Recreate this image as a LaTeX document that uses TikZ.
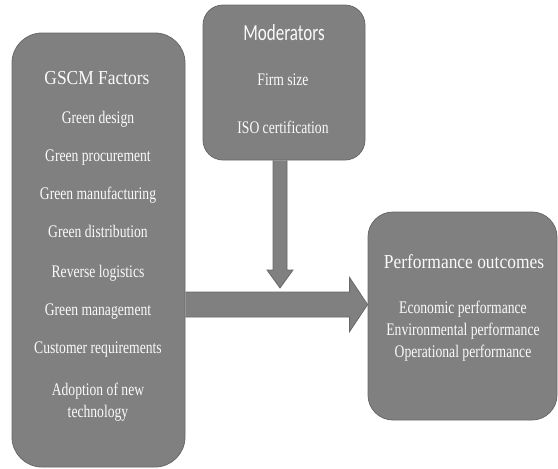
\documentclass[tikz,border=0pt]{standalone}
\usepackage{fontspec}
\setmainfont{Liberation Serif}[FakeStretch=0.77]
\newfontfamily\titleserif{Liberation Serif}[FakeStretch=0.88]
\newfontfamily\titlesans{Carlito}[FakeStretch=0.74]
\definecolor{boxfill}{RGB}{128,128,128}
\definecolor{boxedge}{RGB}{105,105,105}
\definecolor{txt}{RGB}{250,250,250}
\begin{document}
\begin{tikzpicture}[x=1pt,y=-1pt,
  panel/.style={draw=boxedge, line width=0.8pt, fill=boxfill, rounded corners=#1, inner sep=0pt},
  lbl/.style={text=txt, anchor=mid, inner sep=0pt, font=\fontsize{17.7}{21}\selectfont},
  ttl/.style={text=txt, anchor=mid, inner sep=0pt, font=\titleserif\fontsize{19.8}{24}\selectfont},
  arr/.style={draw=boxedge, line width=0.8pt, fill=boxfill}]
\useasboundingbox (0,0) rectangle (558,469);
% boxes
\node[panel=30, minimum width=173pt, minimum height=434pt] (gscm) at (98.5,250) {};
\node[panel=20, minimum width=162pt, minimum height=155pt] (mod) at (284,82.5) {};
\node[panel=25, minimum width=189pt, minimum height=208pt] (perf) at (462.5,316) {};
% arrows
\coordinate (hs) at (gscm.east |- 0,304.5);
\coordinate (ht) at (perf.west |- 0,304.5);
\coordinate (vs) at (mod.south -| 280,0);
\coordinate (vt) at (280,288);
\draw[arr] ([yshift=-12.5pt]hs) -- ([xshift=-18pt,yshift=-12.5pt]ht) -- ([xshift=-18pt,yshift=-27pt]ht) -- (ht)
  -- ([xshift=-18pt,yshift=27pt]ht) -- ([xshift=-18pt,yshift=12.5pt]ht) -- ([yshift=12.5pt]hs);
\draw[arr] ([xshift=-7pt]vs) -- ([xshift=-7pt,yshift=18pt]vt) -- ([xshift=-13pt,yshift=18pt]vt) -- (vt)
  -- ([xshift=13pt,yshift=18pt]vt) -- ([xshift=7pt,yshift=18pt]vt) -- ([xshift=7pt]vs);
% GSCM texts
\node[ttl] (g0) at (97,82) {GSCM Factors};
\node[lbl] (g1) at (98,121) {Green design};
\node[lbl] (g2) at (98,159) {Green procurement};
\node[lbl] (g3) at (98,197) {Green manufacturing};
\node[lbl] (g4) at (98,235) {Green distribution};
\node[lbl] (g5) at (98,275) {Reverse logistics};
\node[lbl] (g6) at (98,313) {Green management};
\node[lbl] (g7) at (98,351) {Customer requirements};
\node[lbl] (g8) at (98,393) {Adoption of new};
\node[lbl] (g9) at (98,415) {technology};
% moderators texts
\node[ttl, font=\titlesans\fontsize{23}{27}\selectfont] (m0) at (284,38) {Moderators};
\node[lbl] (m1) at (283,83) {Firm size};
\node[lbl] (m2) at (283,131) {ISO certification};
% performance texts
\node[ttl] (p0) at (464,266) {Performance outcomes};
\node[lbl] (p1) at (463,311) {Economic performance};
\node[lbl] (p2) at (463,333) {Environmental performance};
\node[lbl] (p3) at (463,355) {Operational performance};
\end{tikzpicture}
\end{document}
